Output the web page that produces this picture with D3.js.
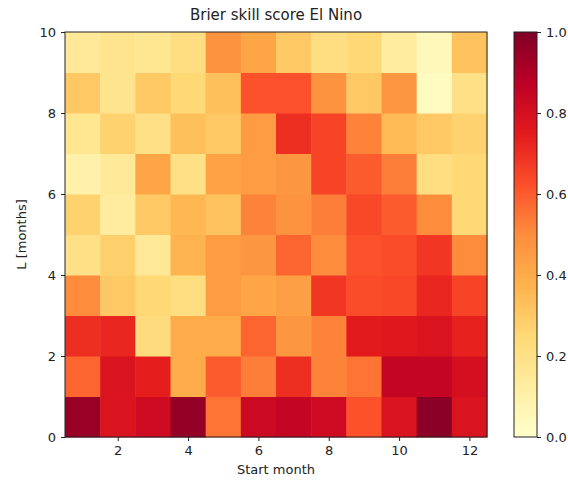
<!DOCTYPE html>
<html>
<head>
<meta charset="utf-8">
<script src="https://cdn.jsdelivr.net/npm/d3@7"></script>
<style>
  body { margin: 0; background: #fff; }
  text { font-family: "DejaVu Sans", sans-serif; fill: #222; }
</style>
</head>
<body>
<div id="chart"></div>
<script>
// start months and lead-time bins
const months = [1, 2, 3, 4, 5, 6, 7, 8, 9, 10, 11, 12];
const leads = [0, 1, 2, 3, 4, 5, 6, 7, 8, 9];

// Brier skill score, one row per lead (L 0-1 first), one value per start month
const bss = [
	[0.95, 0.78, 0.82, 0.96, 0.55, 0.83, 0.85, 0.82, 0.62, 0.78, 0.98, 0.78],
	[0.58, 0.78, 0.74, 0.40, 0.60, 0.53, 0.70, 0.52, 0.55, 0.85, 0.85, 0.80],
	[0.70, 0.72, 0.23, 0.40, 0.40, 0.58, 0.47, 0.52, 0.75, 0.76, 0.78, 0.73],
	[0.50, 0.30, 0.25, 0.22, 0.45, 0.42, 0.44, 0.68, 0.63, 0.64, 0.72, 0.65],
	[0.20, 0.28, 0.15, 0.37, 0.45, 0.47, 0.58, 0.50, 0.62, 0.63, 0.68, 0.50],
	[0.27, 0.13, 0.30, 0.36, 0.32, 0.52, 0.48, 0.53, 0.64, 0.60, 0.50, 0.25],
	[0.10, 0.15, 0.42, 0.20, 0.43, 0.45, 0.47, 0.65, 0.60, 0.53, 0.22, 0.25],
	[0.17, 0.27, 0.20, 0.33, 0.30, 0.45, 0.70, 0.65, 0.52, 0.35, 0.30, 0.27],
	[0.30, 0.18, 0.30, 0.25, 0.33, 0.62, 0.62, 0.48, 0.30, 0.47, 0.03, 0.20],
	[0.15, 0.18, 0.17, 0.22, 0.48, 0.42, 0.30, 0.22, 0.25, 0.13, 0.05, 0.32]
];

const xTicks = [2, 4, 6, 8, 10, 12];
const yTicks = [0, 2, 4, 6, 8, 10];
const cbTicks = [0, 0.2, 0.4, 0.6, 0.8, 1.0];

// matplotlib YlOrRd
const ylorrd = ["#ffffcc", "#ffeda0", "#fed976", "#feb24c", "#fd8d3c", "#fc4e2a", "#e31a1c", "#bd0026", "#800026"];
const color = d3.scaleLinear()
	.domain(d3.range(ylorrd.length).map(i => i / (ylorrd.length - 1)))
	.range(ylorrd)
	.clamp(true);

const width = 568, height = 484;
const plot = { left: 65, right: 487, top: 32, bottom: 437 };

const svg = d3.select("#chart").append("svg")
	.attr("width", width)
	.attr("height", height);

const x = d3.scaleLinear().domain([0.5, 12.5]).range([plot.left, plot.right]);
const y = d3.scaleLinear().domain([0, 10]).range([plot.bottom, plot.top]);

const cells = [];
leads.forEach((l, i) => {
	months.forEach((m, j) => {
		cells.push({ m: m, l: l, v: bss[i][j] });
	});
});

svg.append("g")
	.selectAll("rect")
	.data(cells)
	.join("rect")
	.attr("x", d => x(d.m - 0.5))
	.attr("y", d => y(d.l + 1))
	.attr("width", d => x(d.m + 0.5) - x(d.m - 0.5) + 0.5)
	.attr("height", d => y(d.l) - y(d.l + 1) + 0.5)
	.attr("fill", d => color(d.v));

// frame
svg.append("rect")
	.attr("x", plot.left)
	.attr("y", plot.top)
	.attr("width", plot.right - plot.left)
	.attr("height", plot.bottom - plot.top)
	.attr("fill", "none")
	.attr("stroke", "#222")
	.attr("stroke-width", 1);

const xAxis = svg.append("g")
	.attr("transform", `translate(0,${plot.bottom})`)
	.call(d3.axisBottom(x).tickValues(xTicks).tickSize(4).tickPadding(5).tickFormat(d3.format("d")));
const yAxis = svg.append("g")
	.attr("transform", `translate(${plot.left},0)`)
	.call(d3.axisLeft(y).tickValues(yTicks).tickSize(4).tickPadding(5).tickFormat(d3.format("d")));
[xAxis, yAxis].forEach(a => {
	a.select(".domain").remove();
	a.selectAll("text").attr("font-size", 13).attr("font-family", "DejaVu Sans, sans-serif");
	a.selectAll("line").attr("stroke", "#222");
});

svg.append("text")
	.attr("x", (plot.left + plot.right) / 2)
	.attr("y", 20)
	.attr("text-anchor", "middle")
	.attr("font-size", 15)
	.text("Brier skill score El Nino");

svg.append("text")
	.attr("x", (plot.left + plot.right) / 2)
	.attr("y", 474)
	.attr("text-anchor", "middle")
	.attr("font-size", 13)
	.text("Start month");

svg.append("text")
	.attr("transform", `translate(26,${(plot.top + plot.bottom) / 2}) rotate(-90)`)
	.attr("text-anchor", "middle")
	.attr("font-size", 13)
	.text("L [months]");

// colorbar
const cb = { x: 514, w: 23 };
const cbY = d3.scaleLinear().domain([0, 1]).range([plot.bottom, plot.top]);
const defs = svg.append("defs");
const grad = defs.append("linearGradient")
	.attr("id", "cbgrad")
	.attr("x1", 0).attr("y1", 1).attr("x2", 0).attr("y2", 0);
ylorrd.forEach((c, i) => {
	grad.append("stop")
		.attr("offset", i / (ylorrd.length - 1))
		.attr("stop-color", c);
});
svg.append("rect")
	.attr("x", cb.x)
	.attr("y", plot.top)
	.attr("width", cb.w)
	.attr("height", plot.bottom - plot.top)
	.attr("fill", "url(#cbgrad)")
	.attr("stroke", "#222")
	.attr("stroke-width", 1);

const cbAxis = svg.append("g")
	.attr("transform", `translate(${cb.x + cb.w},0)`)
	.call(d3.axisRight(cbY).tickValues(cbTicks).tickSize(4).tickPadding(5).tickFormat(d3.format(".1f")));
cbAxis.select(".domain").remove();
cbAxis.selectAll("text").attr("font-size", 13).attr("font-family", "DejaVu Sans, sans-serif");
cbAxis.selectAll("line").attr("stroke", "#222");
</script>
</body>
</html>
